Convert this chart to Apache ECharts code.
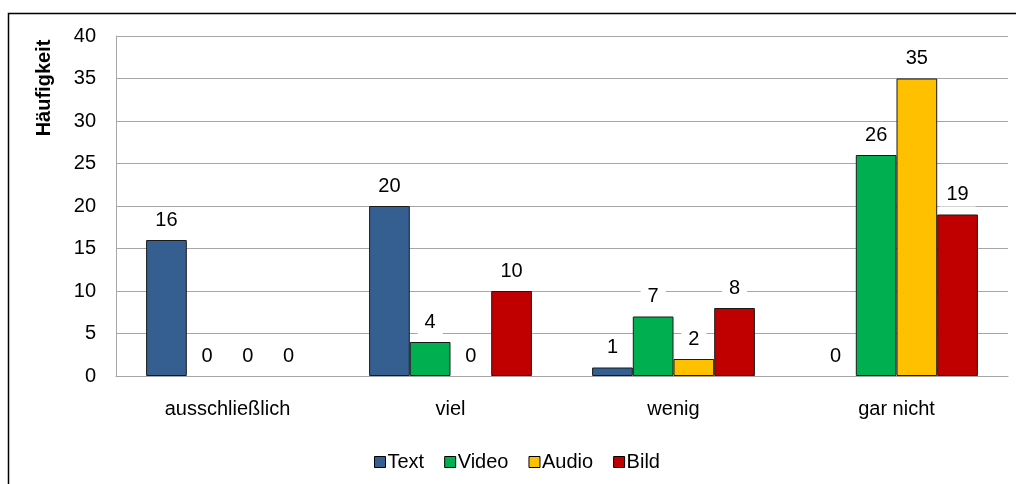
<!DOCTYPE html>
<html>
<head>
<meta charset="utf-8">
<script src="https://cdn.jsdelivr.net/npm/echarts@6/dist/echarts.min.js"></script>
<style>
  html, body { margin: 0; padding: 0; background: #fff; }
  #chart { width: 1016px; height: 484px; }
</style>
</head>
<body>
<div id="chart"></div>
<script>
// Häufigkeit der Nutzung je Medientyp
const categories = ['ausschließlich', 'viel', 'wenig', 'gar nicht'];
const seriesNames = ['Text', 'Video', 'Audio', 'Bild'];
const textValues  = [16, 20, 1, 0];
const videoValues = [0, 4, 7, 26];
const audioValues = [0, 0, 2, 35];
const bildValues  = [0, 10, 8, 19];
const seriesColors = ['#355E91', '#00B050', '#FFC000', '#C00000'];
const yTicks = [0, 5, 10, 15, 20, 25, 30, 35, 40];

const FONT = '"Liberation Sans", Arial, sans-serif';
const values = [textValues, videoValues, audioValues, bildValues];

const chart = echarts.init(document.getElementById('chart'));

// zero-height bars get no outline, so only their value label shows
function toItems(arr) {
  return arr.map(v => v === 0 ? { value: v, itemStyle: { borderWidth: 0 } } : v);
}

chart.setOption({
  animation: false,
  backgroundColor: '#ffffff',
  textStyle: { fontFamily: FONT },
  grid: { left: 116, right: 8, top: 36, bottom: 108, containLabel: false },
  legend: {
    data: seriesNames,
    left: 369,
    top: 447,
    itemWidth: 11,
    itemHeight: 11,
    itemGap: 20,
    icon: 'rect',
    textStyle: { fontFamily: FONT, fontSize: 20, color: '#000', padding: [0, 0, 0, -3] },
    itemStyle: { borderColor: '#000', borderWidth: 1 }
  },
  xAxis: {
    type: 'category',
    data: categories,
    axisLine: { lineStyle: { color: '#a6a6a6', width: 1 } },
    axisTick: { show: false },
    axisLabel: { fontFamily: FONT, fontSize: 20, color: '#000', margin: 23 },
    splitLine: { show: false }
  },
  yAxis: {
    type: 'value',
    min: yTicks[0],
    max: yTicks[yTicks.length - 1],
    interval: 5,
    axisLine: { show: true, lineStyle: { color: '#a6a6a6', width: 1 } },
    axisTick: { show: false },
    axisLabel: { fontFamily: FONT, fontSize: 20, color: '#000', margin: 20 },
    splitLine: { lineStyle: { color: '#a6a6a6', width: 1 } }
  },
  graphic: [
    {
      type: 'rect',
      shape: { x: 8.5, y: 13.5, width: 1200, height: 700 },
      style: { fill: 'none', stroke: '#000', lineWidth: 1.5 },
      silent: true
    },
    {
      type: 'text',
      x: 44,
      y: 88,
      rotation: Math.PI / 2,
      style: {
        text: 'Häufigkeit',
        fontFamily: FONT,
        fontSize: 20,
        fontWeight: 'bold',
        fill: '#000',
        align: 'center',
        verticalAlign: 'middle'
      }
    }
  ],
  series: seriesNames.map((name, i) => ({
    name: name,
    type: 'bar',
    data: toItems(values[i]),
    barGap: '0%',
    barCategoryGap: '27%',
    itemStyle: { color: seriesColors[i], borderColor: '#1a1a1a', borderWidth: 1 },
    label: {
      show: true,
      position: 'top',
      distance: 8,
      fontFamily: FONT,
      fontSize: 20,
      color: '#000',
      backgroundColor: '#fff',
      padding: [2, 7]
    }
  }))
});
</script>
</body>
</html>
